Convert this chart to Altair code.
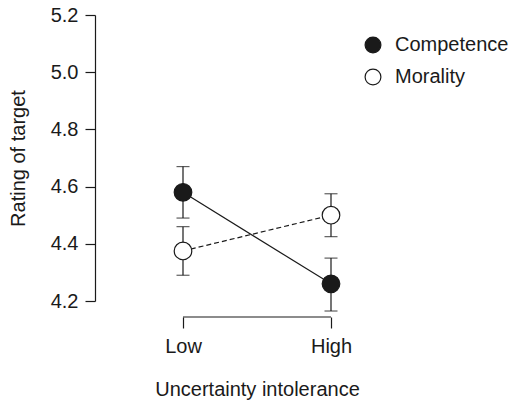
import altair as alt
import pandas as pd

series = ["Competence", "Competence", "Morality", "Morality"]
level = [0, 1, 0, 1]
level_names = ["Low", "High"]
mean = [4.58, 4.26, 4.375, 4.50]
lo = [4.49, 4.165, 4.29, 4.425]
hi = [4.67, 4.35, 4.46, 4.575]
y_ticks = [4.2, 4.4, 4.6, 4.8, 5.0, 5.2]

df = pd.DataFrame({"series": series, "level": level, "mean": mean, "lo": lo, "hi": hi})

FONT = "Liberation Sans"
INK = "#1a1a1a"
FS = 20

xscale = alt.Scale(domain=[-0.5946, 1.5946], nice=False, zero=False)
yscale = alt.Scale(domain=[4.2, 5.2], nice=False, zero=False)

x_axis = alt.Axis(
    values=[0, 1], labelExpr="datum.value == 0 ? 'Low' : 'High'",
    title="Uncertainty intolerance", domain=False, grid=False,
    tickSize=11, offset=16, labelPadding=8, titlePadding=23)
y_axis = alt.Axis(
    values=y_ticks, format=".1f", title="Rating of target", grid=False,
    tickSize=10, labelPadding=7, titlePadding=22)

X = alt.X("level:Q", scale=xscale, axis=x_axis)
Y = alt.Y("mean:Q", scale=yscale, axis=y_axis)

base = alt.Chart(df)

line_comp = base.transform_filter(alt.datum.series == "Competence").mark_line(
    color=INK, strokeWidth=1.2).encode(x=X, y=Y)
line_mor = base.transform_filter(alt.datum.series == "Morality").mark_line(
    color=INK, strokeWidth=1.2, strokeDash=[5, 3]).encode(x=X, y=Y)

bars = base.mark_rule(color=INK, strokeWidth=1.2).encode(
    x=X, y=alt.Y("lo:Q", scale=yscale, axis=y_axis), y2="hi:Q")
caps_lo = base.mark_tick(orient="horizontal", size=13, thickness=1.2, color=INK).encode(
    x=X, y=alt.Y("lo:Q", scale=yscale, axis=y_axis))
caps_hi = base.mark_tick(orient="horizontal", size=13, thickness=1.2, color=INK).encode(
    x=X, y=alt.Y("hi:Q", scale=yscale, axis=y_axis))

points = base.mark_point(filled=False, size=310, strokeWidth=1.2, opacity=1).encode(
    x=X, y=Y,
    fill=alt.Fill("series:N", scale=alt.Scale(
        domain=["Competence", "Morality"], range=[INK, "white"]),
        legend=alt.Legend(title=None, orient="none", legendX=268, legendY=20,
                          symbolType="circle", symbolSize=250,
                          symbolStrokeColor=INK, symbolStrokeWidth=1.2,
                          symbolOpacity=1,
                          labelOffset=12, rowPadding=10, padding=0)),
    stroke=alt.value(INK),
)

bracket = alt.Chart(pd.DataFrame({"a": [0]})).mark_rule(color=INK, strokeWidth=1.2).encode(
    x=alt.datum(0), x2=alt.datum(1), y=alt.value(302))

chart = alt.layer(bracket, line_comp, line_mor, bars, caps_lo, caps_hi, points).properties(
    width=324, height=286,
    autosize=alt.AutoSizeParams(type="none"),
    padding={"left": 95, "top": 15, "right": 95, "bottom": 101},
    background="white",
).configure_view(stroke=None).configure_axis(
    labelFont=FONT, titleFont=FONT, labelFontSize=FS, titleFontSize=FS,
    labelColor=INK, titleColor=INK, tickColor=INK, domainColor=INK,
    titleFontWeight="normal", tickWidth=1.2, domainWidth=1.2,
).configure_legend(
    labelFont=FONT, labelFontSize=FS, labelColor=INK,
)

chart.save("out.html", embed_options={"renderer": "svg", "actions": False})
